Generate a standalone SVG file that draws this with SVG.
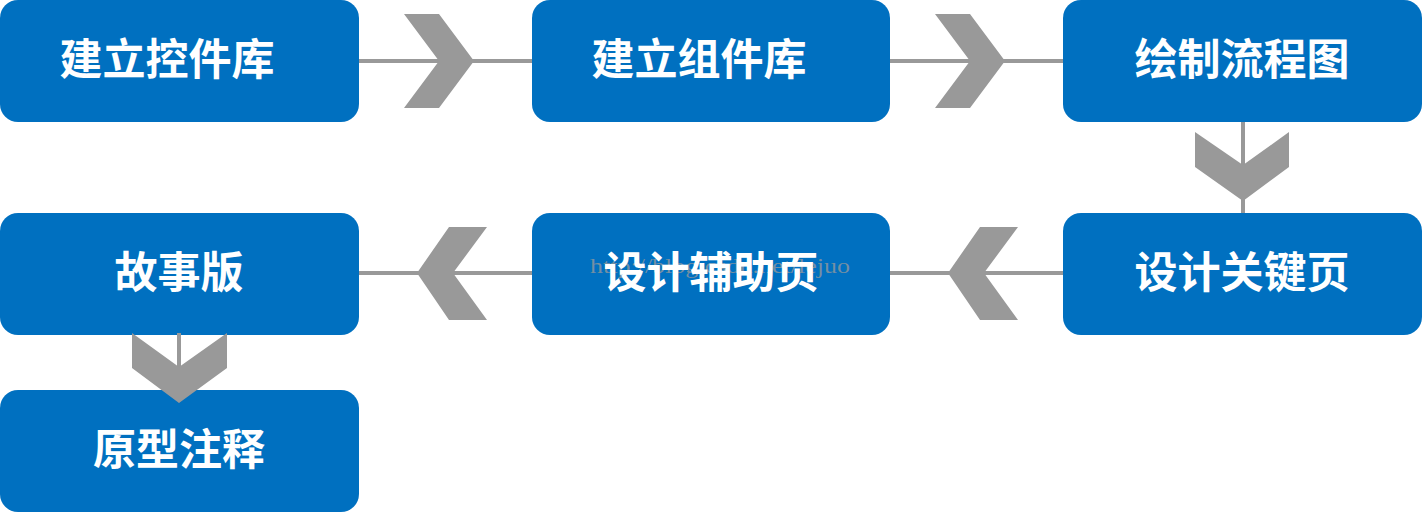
<svg xmlns="http://www.w3.org/2000/svg" width="1422" height="512" viewBox="0 0 1422 512">
<style>
.box{fill:#0070C0}
.lbl{fill:#fff;font-family:"Noto Sans CJK SC","Noto Sans",sans-serif;font-weight:bold;font-size:43px;text-anchor:middle}
.ln{stroke:#999;stroke-width:4;fill:none}
.chev{fill:#999}
.wm{fill:#9a9a9a;fill-opacity:0.75;font-family:"Liberation Serif",serif;font-size:20px}
</style>
<rect width="1422" height="512" fill="#fff"/>
<g id="connectors">
<line class="ln" x1="357" y1="61" x2="534" y2="61"/>
<polygon class="chev" points="404,14 439,14 474,61 439,108 404,108 439,61"/>
<line class="ln" x1="888" y1="61" x2="1065" y2="61"/>
<polygon class="chev" points="935,14 970,14 1005,61 970,108 935,108 970,61"/>
<line class="ln" x1="1243" y1="120" x2="1243" y2="215"/>
<polygon class="chev" points="1195,132 1243,165 1289,132 1289,167 1243,201 1195,167"/>
<line class="ln" x1="888" y1="273" x2="1065" y2="273"/>
<polygon class="chev" points="980,227 1018,227 984,273 1018,320 980,320 948,273"/>
<line class="ln" x1="357" y1="273" x2="534" y2="273"/>
<polygon class="chev" points="449,227 487,227 453,273 487,320 449,320 417,273"/>
</g>
<g id="n1"><rect class="box" x="0" y="0" width="359" height="122" rx="18"/><text class="lbl" x="167" y="75">建立控件库</text></g>
<g id="n2"><rect class="box" x="532" y="0" width="358" height="122" rx="18"/><text class="lbl" x="699" y="75">建立组件库</text></g>
<g id="n3"><rect class="box" x="1063" y="0" width="359" height="122" rx="18"/><text class="lbl" x="1242" y="75">绘制流程图</text></g>
<g id="n4"><rect class="box" x="1063" y="213" width="359" height="122" rx="18"/><text class="lbl" x="1242" y="288">设计关键页</text></g>
<g id="n5"><rect class="box" x="532" y="213" width="358" height="122" rx="18"/><text class="wm" x="590" y="273" textLength="260" lengthAdjust="spacingAndGlyphs">http://blog.csdn.net/lejuo</text><text class="lbl" x="711" y="288">设计辅助页</text></g>
<g id="n6"><rect class="box" x="0" y="213" width="359" height="122" rx="18"/><text class="lbl" x="179" y="288">故事版</text></g>
<g id="n7"><rect class="box" x="0" y="390" width="359" height="122" rx="18"/><text class="lbl" x="179" y="465">原型注释</text></g>
<g id="connectors-overlay">
<line class="ln" x1="179" y1="333" x2="179" y2="368"/>
<polygon class="chev" points="132,333 179,367 227,333 227,368 179,403 132,368"/>
</g>
</svg>
